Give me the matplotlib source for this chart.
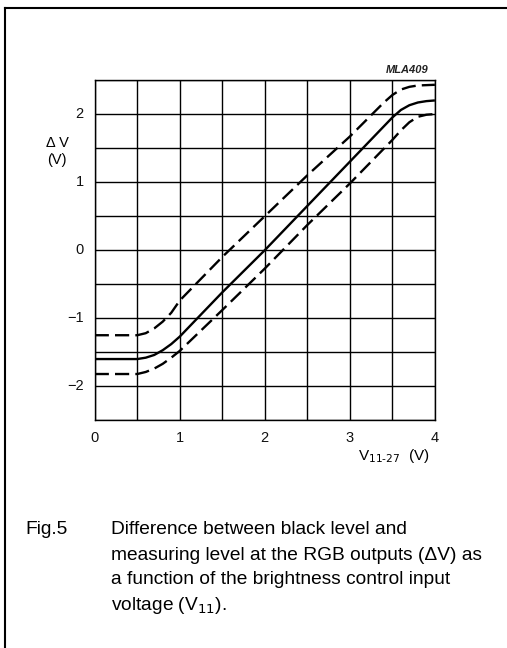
import matplotlib.pyplot as plt
from matplotlib.lines import Line2D

plt.rcParams['font.family'] = ['Liberation Sans', 'DejaVu Sans']

# brightness control voltage V11-27 (V) and delta V (V)
x_typ = [0, 0.5, 0.6, 0.7, 0.8, 0.9, 1.0, 1.5, 2.0, 2.5, 3.0, 3.5, 3.6, 3.7, 3.8, 3.9, 4.0]
y_typ = [-1.6, -1.6, -1.58, -1.54, -1.47, -1.38, -1.27, -0.62, 0.0, 0.65, 1.3, 1.95, 2.06, 2.13, 2.17, 2.19, 2.2]

x_max = [0, 0.5, 0.6, 0.7, 0.8, 0.9, 1.0, 1.5, 2.0, 2.5, 3.0, 3.4, 3.5, 3.6, 3.7, 3.8, 4.0]
y_max = [-1.25, -1.25, -1.22, -1.15, -1.05, -0.92, -0.74, -0.1, 0.5, 1.1, 1.67, 2.17, 2.28, 2.36, 2.4, 2.42, 2.43]

x_min = [0, 0.5, 0.6, 0.7, 0.8, 0.9, 1.0, 1.5, 2.0, 2.5, 3.0, 3.5, 3.6, 3.7, 3.8, 3.9, 4.0]
y_min = [-1.82, -1.82, -1.79, -1.74, -1.67, -1.58, -1.48, -0.88, -0.27, 0.37, 0.98, 1.62, 1.76, 1.88, 1.96, 1.99, 2.0]

x_ticks = [0, 1, 2, 3, 4]
y_ticks = [-2, -1, 0, 1, 2]

caption = ['Difference between black level and',
           'measuring level at the RGB outputs (\u0394V) as',
           'a function of the brightness control input',
           'voltage (V$_{11}$).']

fig = plt.figure(figsize=(5.07, 6.48), dpi=100)
ax = fig.add_axes([0.1868, 0.3514, 0.671, 0.5251])

ax.plot(x_typ, y_typ, color='black', lw=1.7, solid_capstyle='butt')
for xs, ys in [(x_max, y_max), (x_min, y_min)]:
    ln, = ax.plot(xs, ys, color='black', lw=1.7, dash_capstyle='butt')
    ln.set_dashes((6.0, 2.6))

ax.set_xlim(0, 4)
ax.set_ylim(-2.5, 2.5)
ax.set_xticks([i * 0.5 for i in range(9)])
ax.set_yticks([-2.5 + i * 0.5 for i in range(11)])
ax.set_xticklabels([])
ax.set_yticklabels([])
ax.tick_params(length=0)
ax.grid(True, color='black', lw=1.0)
for s in ax.spines.values():
    s.set_linewidth(1.0)

for v in x_ticks:
    ax.text(v, -2.65, str(v), ha='center', va='top', fontsize=10.5, color='#111111')
for v in y_ticks:
    ax.text(-0.13, v, str(v).replace('-', '\u2212'), ha='right', va='center',
            fontsize=10.5, color='#111111')

ax.text(-0.44, 1.57, '\u0394 V', ha='center', va='center', fontsize=10.5)
ax.text(-0.44, 1.33, '(V)', ha='center', va='center', fontsize=10.5)
ax.text(3.93, 2.57, 'MLA409', ha='right', va='bottom', fontsize=8,
        style='italic', weight='bold', color='#222222')
ax.text(3.94, -3.02, 'V$_{11\u201027}$  (V)', ha='right', va='center', fontsize=11)

fig.text(25 / 507, 1 - 530 / 648, 'Fig.5', ha='left', va='center', fontsize=13.8)
for i, line in enumerate(caption):
    fig.text(111 / 507, 1 - (530 + 25 * i) / 648, line, ha='left', va='center',
             fontsize=13.8)

# page frame (top and left edges)
fig.add_artist(Line2D([4.5 / 507, 1], [1 - 7.5 / 648, 1 - 7.5 / 648],
                      color='black', lw=1.5, transform=fig.transFigure))
fig.add_artist(Line2D([4.5 / 507, 4.5 / 507], [0, 1 - 7.5 / 648],
                      color='black', lw=1.5, transform=fig.transFigure))

fig.savefig('out.png', dpi=100)
